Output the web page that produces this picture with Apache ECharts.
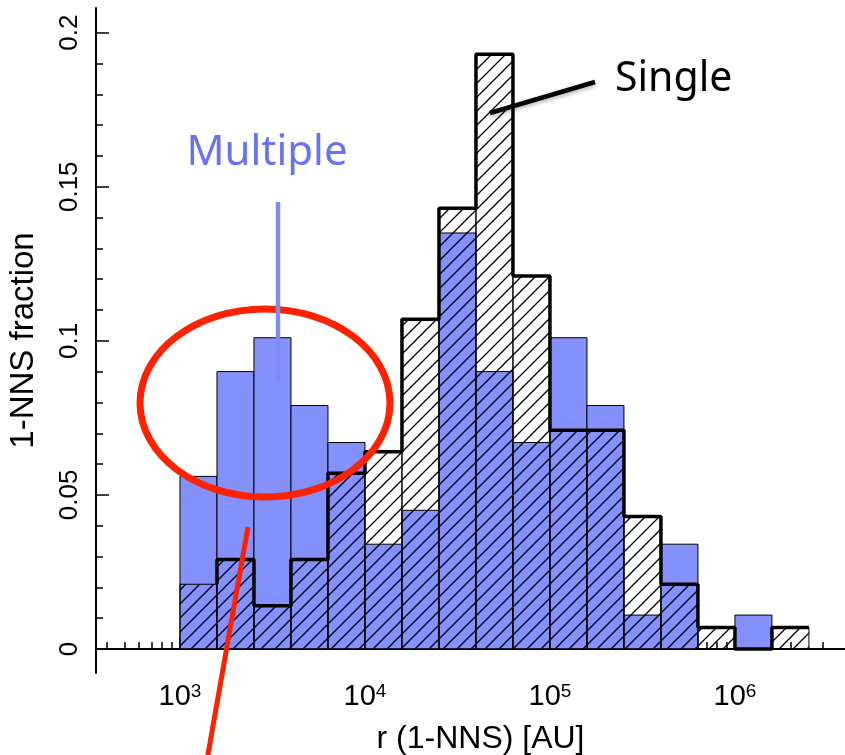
<!DOCTYPE html>
<html>
<head>
<meta charset="utf-8">
<script src="https://cdn.jsdelivr.net/npm/echarts@6/dist/echarts.min.js"></script>
<style>
  html, body { margin: 0; padding: 0; background: #fff; }
  #chart { width: 845px; height: 755px; }
</style>
</head>
<body>
<div id="chart"></div>
<script>
// bin edges in log10(r / AU)
const binEdges = [3.0, 3.2, 3.4, 3.6, 3.8, 4.0, 4.2, 4.4, 4.6, 4.8, 5.0, 5.2, 5.4, 5.6, 5.8, 6.0, 6.2, 6.4];
// fraction per bin
const multipleFrac = [0.056, 0.090, 0.101, 0.079, 0.067, 0.034, 0.045, 0.135, 0.090, 0.067, 0.101, 0.079, 0.011, 0.034, 0, 0.011, 0];
const singleFrac = [0.021, 0.029, 0.014, 0.029, 0.057, 0.064, 0.107, 0.143, 0.193, 0.121, 0.071, 0.071, 0.043, 0.021, 0.007, 0, 0.007];

// ticks
const xMajorTicks = [3, 4, 5, 6];
const xMinorTicksAU = [400, 500, 600, 700, 800, 900,
  2000, 3000, 4000, 5000, 6000, 7000, 8000, 9000,
  20000, 30000, 40000, 50000, 60000, 70000, 80000, 90000,
  200000, 300000, 400000, 500000, 600000, 700000, 800000, 900000,
  2000000, 3000000];
const yMajorTicks = [0, 0.05, 0.1, 0.15, 0.2];
const yMinorTicks = [0.01, 0.02, 0.03, 0.04, 0.06, 0.07, 0.08, 0.09, 0.11, 0.12, 0.13, 0.14, 0.16, 0.17, 0.18, 0.19];

const xMin = 2.546, xMax = 6.595;
const yMin = -0.0078, yMax = 0.208;

const AXIS_FONT = 'Liberation Sans, Arial, sans-serif';
const NOTE_FONT = 'Noto Sans, Open Sans, sans-serif';
const BLUE = '#8490fb';

// "/" hatch pattern
function makeHatch(size, width) {
  const c = document.createElement('canvas');
  c.width = size; c.height = size;
  const ctx = c.getContext('2d');
  ctx.strokeStyle = '#000';
  ctx.lineWidth = width;
  ctx.beginPath();
  ctx.moveTo(0, size); ctx.lineTo(size, 0);
  ctx.moveTo(-2, 2); ctx.lineTo(2, -2);
  ctx.moveTo(size - 2, size + 2); ctx.lineTo(size + 2, size - 2);
  ctx.stroke();
  return c;
}
const hatch = makeHatch(14, 1.3);

function barItem(fill, lineWidth) {
  return function (params, api) {
    const v = api.value(2);
    if (!v) return null;
    const p0 = api.coord([api.value(0), 0]);
    const p1 = api.coord([api.value(1), v]);
    return {
      type: 'rect',
      shape: { x: p0[0], y: p1[1], width: p1[0] - p0[0], height: p0[1] - p1[1] },
      style: { fill: fill, stroke: '#000', lineWidth: lineWidth }
    };
  };
}

const multipleData = multipleFrac.map((v, i) => [binEdges[i], binEdges[i + 1], v]);
const singleData = singleFrac.map((v, i) => [binEdges[i], binEdges[i + 1], v]);
const singleStep = singleFrac.map((v, i) => [binEdges[i + 1], v]);

function xAxisBase() {
  return {
    type: 'value', min: xMin, max: xMax, position: 'bottom',
    splitLine: { show: false }
  };
}
function yAxisBase() {
  return {
    type: 'value', min: yMin, max: yMax, position: 'left',
    splitLine: { show: false }
  };
}

const chart = echarts.init(document.getElementById('chart'));
chart.setOption({
  animation: false,
  backgroundColor: '#fff',
  grid: { left: 96, right: 0, top: 8, bottom: 82, containLabel: false, outerBoundsMode: 'none' },
  xAxis: [
    Object.assign(xAxisBase(), {
      name: 'r (1-NNS) [AU]',
      nameLocation: 'middle',
      nameGap: 50,
      nameTextStyle: { fontFamily: AXIS_FONT, fontSize: 32, color: '#000', padding: [0, 0, 0, 20] },
      axisLine: { show: true, lineStyle: { color: '#000', width: 2 } },
      axisTick: { show: true, inside: true, length: 12, customValues: xMajorTicks, lineStyle: { color: '#000', width: 1.5 } },
      axisLabel: {
        customValues: xMajorTicks,
        margin: 9,
        formatter: v => '{b|10}{s|' + v + '}',
        rich: {
          b: { fontFamily: AXIS_FONT, fontSize: 29, color: '#000', verticalAlign: 'bottom' },
          s: { fontFamily: AXIS_FONT, fontSize: 19, color: '#000', verticalAlign: 'top' }
        }
      }
    }),
    Object.assign(xAxisBase(), {
      axisLine: { show: false },
      axisTick: { show: true, inside: true, length: 7, customValues: xMinorTicksAU.map(Math.log10), lineStyle: { color: '#000', width: 1.5 } },
      axisLabel: { show: false }
    })
  ],
  yAxis: [
    Object.assign(yAxisBase(), {
      name: '1-NNS fraction',
      nameLocation: 'middle',
      nameGap: 56,
      nameTextStyle: { fontFamily: AXIS_FONT, fontSize: 33, color: '#000' },
      axisLine: { show: true, lineStyle: { color: '#000', width: 2 } },
      axisTick: { show: true, inside: true, length: 13, customValues: yMajorTicks, lineStyle: { color: '#000', width: 1.5 } },
      axisLabel: { customValues: yMajorTicks, rotate: 90, margin: 13, fontFamily: AXIS_FONT, fontSize: 26, color: '#000' }
    }),
    Object.assign(yAxisBase(), {
      axisLine: { show: false },
      axisTick: { show: true, inside: true, length: 7, customValues: yMinorTicks, lineStyle: { color: '#000', width: 1.5 } },
      axisLabel: { show: false }
    })
  ],
  series: [
    {
      name: 'Multiple', type: 'custom', renderItem: barItem(BLUE, 1),
      encode: { x: [0, 1], y: 2 }, data: multipleData, z: 2
    },
    {
      name: 'Single', type: 'custom', renderItem: barItem({ image: hatch, repeat: 'repeat' }, 1),
      encode: { x: [0, 1], y: 2 }, data: singleData, z: 3
    },
    {
      name: 'Single outline', type: 'line', step: 'start', data: singleStep,
      symbol: 'none', lineStyle: { color: '#000', width: 3.5 }, z: 4
    }
  ],
  graphic: [
    { type: 'ellipse', z: 100, shape: { cx: 265, cy: 403, rx: 125, ry: 94 },
      style: { fill: 'none', stroke: '#ff2200', lineWidth: 7 } },
    { type: 'line', z: 100, shape: { x1: 248, y1: 527, x2: 207, y2: 760 },
      style: { stroke: '#ff2200', lineWidth: 5 } },
    { type: 'line', z: 100, shape: { x1: 278, y1: 202, x2: 278, y2: 382 },
      style: { stroke: '#7f8af6', lineWidth: 4.5 } },
    { type: 'line', z: 100, shape: { x1: 490, y1: 113, x2: 595, y2: 82 },
      style: { stroke: '#000', lineWidth: 4.5, shadowBlur: 4, shadowOffsetY: 2, shadowColor: 'rgba(0,0,0,0.3)' } },
    { type: 'text', z: 100, x: 267, y: 174,
      style: { text: 'Multiple', fontFamily: NOTE_FONT, fontSize: 42, fill: '#6872f2', align: 'center', verticalAlign: 'bottom' } },
    { type: 'text', z: 100, x: 615, y: 100,
      style: { text: 'Single', fontFamily: NOTE_FONT, fontSize: 41, fill: '#000', align: 'left', verticalAlign: 'bottom' } }
  ]
});
</script>
</body>
</html>
